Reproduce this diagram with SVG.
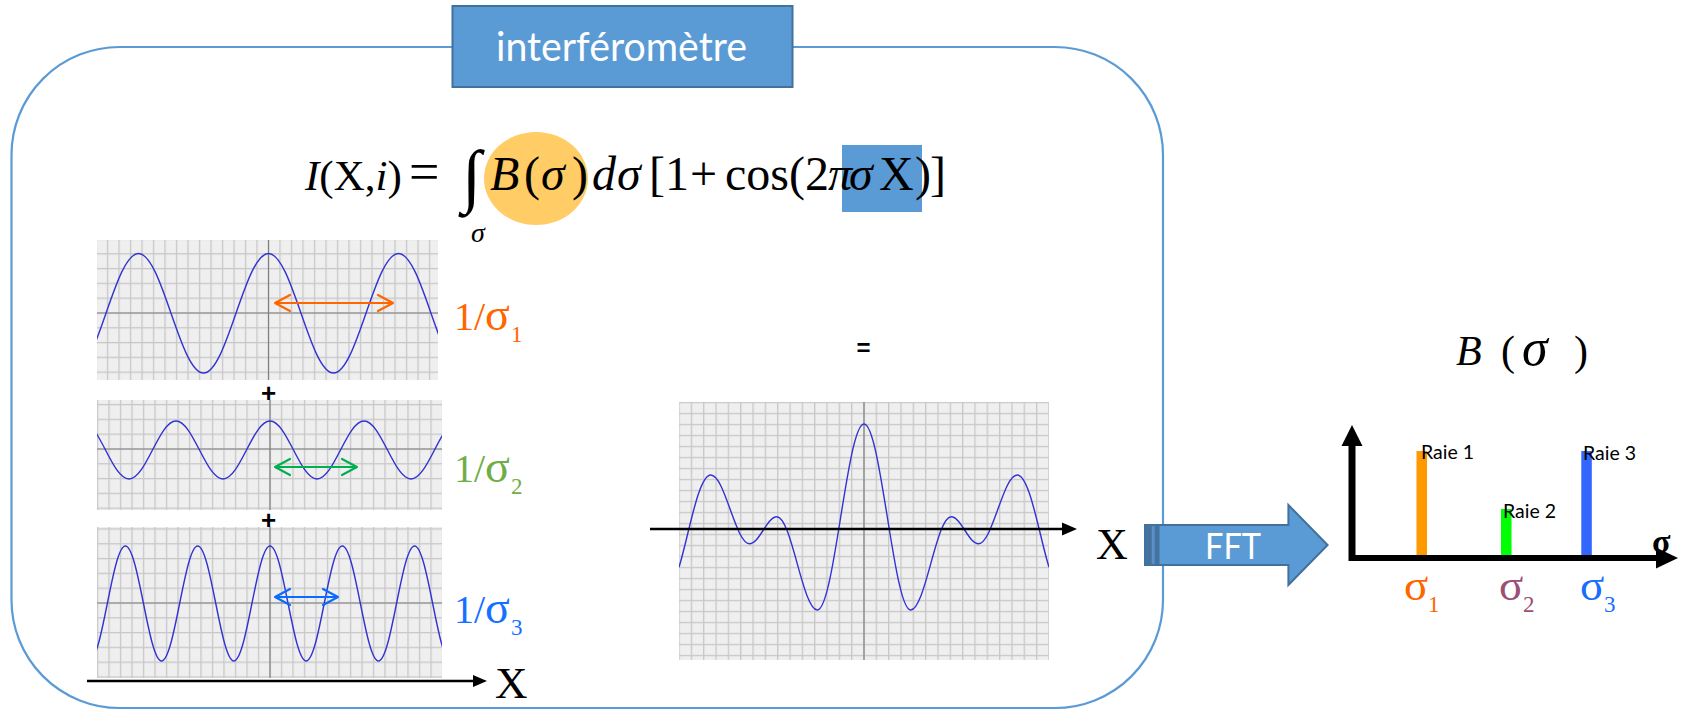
<svg xmlns="http://www.w3.org/2000/svg" width="1685" height="710" viewBox="0 0 1685 710">
<defs>
<style>
.serif{font-family:"Liberation Serif","Times New Roman",serif}
.sans{font-family:Lato,"Liberation Sans",Arial,sans-serif}
.arial{font-family:"Liberation Sans",Arial,sans-serif}
.it{font-style:italic}
.wave{fill:none;stroke:#3232D2;stroke-width:1.4}
.gaxis{fill:none;stroke:#808080;stroke-width:1.2}
.blkline{fill:none;stroke:#000}
.dbl{fill:none;stroke-width:2.2;stroke-linecap:round;stroke-linejoin:round}
.office{fill:#5B9BD5;stroke:#41719C;stroke-width:2}
</style>
<pattern id="gridA" patternUnits="userSpaceOnUse" x="-0.65" y="-0.65" width="11.5" height="14.8">
<rect width="11.5" height="14.8" fill="#EFEFEF"/>
<rect width="1.3" height="14.8" fill="#C8C8C8"/>
<rect width="11.5" height="1.3" fill="#C8C8C8"/>
</pattern>
<pattern id="gridB" patternUnits="userSpaceOnUse" x="-0.65" y="4.85" width="12.33" height="11">
<rect width="12.33" height="11" fill="#EFEFEF"/>
<rect width="1.3" height="11" fill="#C8C8C8"/>
<rect width="12.33" height="1.3" fill="#C8C8C8"/>
</pattern>
<clipPath id="c1"><rect x="-171.5" y="-73" width="341" height="140"/></clipPath>
<clipPath id="c2"><rect x="-173" y="-49" width="345" height="110"/></clipPath>
<clipPath id="c3"><rect x="-173" y="-76" width="345" height="151"/></clipPath>
<clipPath id="c4"><rect x="-185" y="-127" width="370" height="258"/></clipPath>
</defs>

<g id="frame">
<rect x="11.5" y="47" width="1151.5" height="661" rx="108" ry="108" fill="none" stroke="#5B9BD5" stroke-width="2.2"/>
</g>

<g id="title-box">
<rect class="office" x="452.5" y="6" width="340" height="81"/>
<text class="sans" x="496" y="61" font-size="40" fill="#FFFFFF" textLength="251" lengthAdjust="spacingAndGlyphs">interféromètre</text>
</g>

<g id="formula">
<ellipse cx="536" cy="178.5" rx="52" ry="46.5" fill="#FFCC66"/>
<rect x="842" y="145" width="80" height="67" fill="#5B9BD5"/>
<text class="serif" font-size="43" x="305" y="190" fill="#000"><tspan class="it">I</tspan>(X,<tspan class="it">i</tspan>)</text>
<text class="serif" font-size="48" y="190" fill="#000"><tspan x="409" font-size="54">=</tspan><tspan x="490" class="it">B</tspan><tspan x="524">(</tspan><tspan x="541" class="it">σ</tspan><tspan x="572">)</tspan><tspan x="592" class="it">d</tspan><tspan x="617" class="it">σ</tspan><tspan x="649">[1</tspan><tspan x="690">+</tspan><tspan x="725">cos(2</tspan><tspan x="828" class="it">π</tspan><tspan x="849" class="it">σ</tspan><tspan x="879">X</tspan><tspan x="915">)</tspan><tspan x="930">]</tspan></text>
<text class="serif" x="462" y="199" font-size="70">∫</text>
<text class="serif it" x="471" y="242" font-size="28">σ</text>
</g>

<g id="graph1" transform="translate(268.5,313)">
<rect x="-171.5" y="-73" width="341" height="140" fill="url(#gridA)"/>
<path class="gaxis" d="M-171.5,0H169.5M0,-73V67"/>
<path class="wave" clip-path="url(#c1)" d="M-195,60 C-171.38,60 -153.62,-59.5 -130,-59.5 C-106.38,-59.5 -88.62,60 -65,60 C-41.38,60 -23.62,-59.5 0,-59.5 C23.62,-59.5 41.38,60 65,60 C88.62,60 106.38,-59.5 130,-59.5 C153.62,-59.5 171.38,60 195,60"/>
</g>

<g id="graph2" transform="translate(270,449)">
<rect x="-173" y="-49" width="345" height="110" fill="url(#gridA)"/>
<path class="gaxis" d="M-173,0H172M0,-49V61"/>
<path class="wave" clip-path="url(#c2)" d="M-188,-28 C-170.92,-28 -158.08,30 -141,30 C-123.92,30 -111.08,-28 -94,-28 C-76.92,-28 -64.08,30 -47,30 C-29.92,30 -17.08,-28 0,-28 C17.08,-28 29.92,30 47,30 C64.08,30 76.92,-28 94,-28 C111.08,-28 123.92,30 141,30 C158.08,30 170.92,-28 188,-28"/>
</g>

<g id="graph3" transform="translate(270,603)">
<rect x="-173" y="-76" width="345" height="151" fill="url(#gridA)"/>
<path class="gaxis" d="M-173,0H172M0,-76V75"/>
<path class="wave" clip-path="url(#c3)" d="M-180.75,58 C-167.61,58 -157.74,-57 -144.6,-57 C-131.46,-57 -121.59,58 -108.45,58 C-95.31,58 -85.44,-57 -72.3,-57 C-59.16,-57 -49.29,58 -36.15,58 C-23.01,58 -13.14,-57 0,-57 C13.14,-57 23.01,58 36.15,58 C49.29,58 59.16,-57 72.3,-57 C85.44,-57 95.31,58 108.45,58 C121.59,58 131.46,-57 144.6,-57 C157.74,-57 167.61,58 180.75,58"/>
</g>

<g id="graph-sum" transform="translate(864,529)">
<rect x="-185" y="-127" width="370" height="258" fill="url(#gridB)"/>
<path class="gaxis" d="M0,-127V131"/>
<path class="wave" clip-path="url(#c4)" d="M-185,38.2 C-175.5,8 -165.9,-54 -153.2,-54 C-139.1,-54 -128.6,14.7 -114.5,14.7 C-104.5,14.7 -97.1,-12.2 -87.1,-12.2 C-72.4,-12.2 -61.3,81 -46.6,81 C-29.7,81 -16.9,-105 0,-105 C16.9,-105 29.7,81 46.6,81 C61.3,81 72.4,-12.2 87.1,-12.2 C97.1,-12.2 104.5,14.7 114.5,14.7 C128.6,14.7 139.1,-54 153.2,-54 C165.9,-54 175.5,8 185,38.2"/>
</g>

<g id="labels-periods" class="serif">
<text y="330" font-size="40" fill="#FF6600"><tspan x="454">1/</tspan><tspan x="485" font-size="46">σ</tspan><tspan x="511" dy="11.5" font-size="23">1</tspan></text>
<text y="482" font-size="40" fill="#70AD47"><tspan x="454">1/</tspan><tspan x="485" font-size="46">σ</tspan><tspan x="511" dy="11.5" font-size="23">2</tspan></text>
<text y="623" font-size="40" fill="#1570FF"><tspan x="454">1/</tspan><tspan x="485" font-size="46">σ</tspan><tspan x="511" dy="11.5" font-size="23">3</tspan></text>
</g>

<g id="operators" class="arial" font-weight="bold" text-anchor="middle" fill="#000">
<text x="268.5" y="402" font-size="26">+</text>
<text x="268.5" y="529" font-size="26">+</text>
<text x="863.5" y="356" font-size="24">=</text>
</g>

<g id="axis-labels" class="serif" fill="#000">
<text x="495" y="698" font-size="45">X</text>
<text x="1096" y="559" font-size="44">X</text>
</g>

<g id="connectors">
<path class="blkline" stroke-width="2.5" d="M87,681H475"/>
<polygon points="473,675 487,681 473,687" fill="#000"/>
<path class="blkline" stroke-width="2.7" d="M650,529H1064"/>
<polygon points="1062,522.5 1077,529 1062,535.5" fill="#000"/>
<path class="dbl" stroke="#FF6600" d="M290,295 L275,303 L290,311 M275,303 H393 M378,295 L393,303 L378,311"/>
<path class="dbl" stroke="#00B050" d="M290,459 L275,467 L290,475 M275,467 H357 M342,459 L357,467 L342,475"/>
<path class="dbl" stroke="#0A6CFF" d="M290,589 L275,597 L290,605 M275,597 H338 M323,589 L338,597 L323,605"/>
</g>

<g id="fft-arrow">
<polygon class="office" points="1145,525 1288.4,525 1288.4,505 1327.6,545 1288.4,585 1288.4,565 1145,565"/>
<rect x="1146" y="526" width="13.5" height="38" fill="#44739F"/>
<rect x="1151.7" y="526" width="3" height="38" fill="#5A8FC9"/>
<text class="sans" x="1205" y="559" font-size="37" fill="#FFFFFF" textLength="56" lengthAdjust="spacingAndGlyphs">FFT</text>
</g>

<g id="spectrum">
<text class="serif" y="365" font-size="42" fill="#000"><tspan x="1456" class="it">B</tspan><tspan x="1501">(</tspan><tspan x="1522" class="it" font-size="52">σ</tspan><tspan x="1574">)</tspan></text>
<rect x="1416.5" y="451" width="10.5" height="107" fill="#FF9900"/>
<rect x="1501" y="509" width="10.5" height="49" fill="#00FF00"/>
<rect x="1581.3" y="451" width="10.5" height="107" fill="#3366FF"/>
<path class="blkline" stroke-width="7" d="M1352,561V443"/>
<polygon points="1341.5,446 1352,425 1362.5,446" fill="#000"/>
<path class="blkline" stroke-width="6" d="M1349,558H1660"/>
<polygon points="1656,547.5 1678,558 1656,568.5" fill="#000"/>
<text class="serif" x="1652" y="553" font-size="34" font-weight="bold" fill="#000">σ</text>
<g class="sans" font-size="19.5" fill="#000">
<text x="1421" y="459">Raie 1</text>
<text x="1503" y="518">Raie 2</text>
<text x="1583" y="460">Raie 3</text>
</g>
<g class="serif">
<text y="600" font-size="40" fill="#FF6600"><tspan x="1404" font-size="45">σ</tspan><tspan x="1428" dy="11.5" font-size="23">1</tspan></text>
<text y="600" font-size="40" fill="#9B4F72"><tspan x="1499" font-size="45">σ</tspan><tspan x="1523" dy="11.5" font-size="23">2</tspan></text>
<text y="600" font-size="40" fill="#1A6CFF"><tspan x="1580" font-size="45">σ</tspan><tspan x="1604" dy="11.5" font-size="23">3</tspan></text>
</g>
</g>
</svg>
